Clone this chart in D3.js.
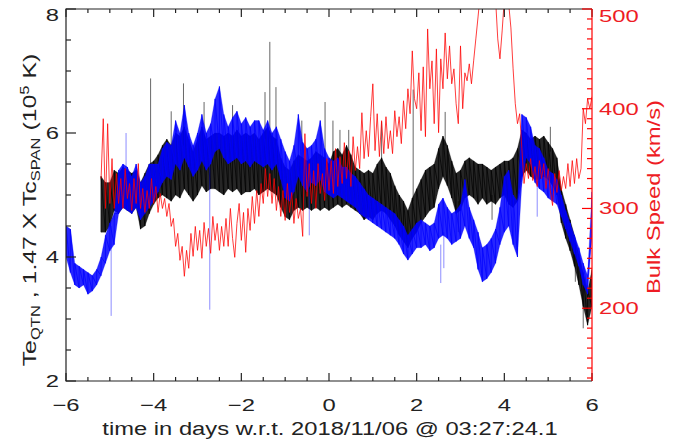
<!DOCTYPE html>
<html><head><meta charset="utf-8">
<script src="https://cdn.jsdelivr.net/npm/d3@7"></script>
<style>body{margin:0;background:#fff}svg{display:block}text{font-family:"Liberation Sans",Arial,sans-serif}</style>
</head><body><svg id="c" width="694" height="443"></svg>
<script>
// ---- data ----
const xTicks = [-6, -4, -2, 0, 2, 4, 6];
const yTicks = [2, 4, 6, 8];
const vTicks = [200, 300, 400, 500];
const blueStart = -6.0, blackStart = -5.2, redStart = -5.2, bandStep = 0.1, redStep = 0.05;

// 1.47 x Tc_SPAN (10^5 K), envelope per 0.1 day from -6.0
const blueLo = [
 4.0,3.75,3.55,3.5,3.55,3.4,3.45,3.55,3.7,3.9,
 4.1,4.2,4.7,4.8,4.75,4.7,4.8,4.6,4.7,4.8,
 4.9,5.05,5.2,5.3,5.25,5.5,5.4,5.6,5.45,5.3,
 5.4,5.55,5.4,5.5,5.7,5.75,5.6,5.5,5.55,5.6,
 5.5,5.55,5.45,5.55,5.5,5.45,5.5,5.4,5.5,5.25,
 4.95,4.9,5.05,5.3,5.15,5.05,5.2,5.15,5.25,5.05,
 5.0,4.95,5.0,4.95,4.9,4.85,4.8,4.7,4.65,4.6,
 4.55,4.5,4.45,4.4,4.35,4.3,4.2,4.05,3.95,4.05,
 4.15,4.15,4.2,4.1,4.15,4.3,4.35,4.3,4.2,4.25,
 4.3,4.5,4.3,4.15,3.8,3.6,3.65,3.75,3.9,4.2,
 4.4,4.5,4.2,4.0,5.2,5.6,5.5,5.2,5.1,5.05,
 4.95,4.9,4.85,4.65,4.45,4.25,4.05,3.85,3.55,3.4,
 4.4];
const blueHi = [
 4.5,4.45,3.9,3.85,3.8,3.75,3.7,3.8,4.0,4.35,
 4.55,4.7,5.4,5.5,5.45,5.3,5.5,5.2,5.3,5.5,
 5.5,5.5,5.75,5.85,5.8,6.2,6.0,6.45,6.0,5.8,
 6.0,6.3,6.0,6.15,6.55,6.75,6.3,6.1,6.25,6.35,
 6.15,6.25,6.1,6.2,6.2,6.05,6.2,6.0,6.1,5.9,
 5.7,5.55,5.8,6.3,5.85,5.75,5.8,5.9,6.2,5.75,
 5.6,5.55,5.6,5.45,5.45,5.35,5.3,5.2,5.1,5.0,
 4.95,4.9,4.85,4.8,4.75,4.7,4.6,4.5,4.35,4.45,
 4.55,4.6,4.55,4.5,4.55,4.85,4.95,4.8,4.7,4.75,
 4.85,5.25,4.8,4.6,4.4,4.15,4.2,4.3,4.45,4.8,
 5.3,5.4,5.0,4.9,6.3,6.25,6.1,5.8,5.75,5.6,
 5.4,5.35,5.25,5.0,4.75,4.55,4.35,4.15,3.9,3.7,
 5.05];
// Te_QTN (10^5 K), envelope per 0.1 day from -5.2
const blackLo = [
 4.4,4.4,
 4.5,4.75,4.7,4.8,4.75,4.7,4.8,4.45,4.5,4.7,
 4.85,4.95,5.0,4.95,4.9,5.0,4.95,5.1,5.0,4.9,
 5.0,5.15,5.05,5.1,5.1,5.05,5.0,5.1,5.05,5.1,
 5.0,5.05,5.05,5.1,5.0,5.05,5.1,5.05,5.0,4.8,
 4.65,4.6,4.75,4.8,4.75,4.8,4.75,4.8,4.75,4.8,
 4.75,4.8,4.85,4.8,4.85,4.8,4.75,4.7,4.6,4.65,
 4.6,4.7,4.75,4.7,4.6,4.5,4.35,4.25,4.15,4.3,
 4.4,4.55,4.65,4.75,4.8,5.1,5.3,5.15,4.95,4.7,
 4.75,4.95,5.0,4.95,4.85,4.95,4.85,4.9,4.85,4.95,
 5.0,4.85,4.8,4.9,5.3,5.4,5.3,5.25,5.25,5.3,
 5.25,5.15,5.0,4.55,4.3,4.1,3.85,3.55,3.2,2.9,
 3.2];
const blackHi = [
 5.3,5.2,
 5.2,5.4,5.35,5.45,5.4,5.35,5.4,5.2,5.35,5.5,
 5.55,5.65,5.8,5.9,5.8,6.0,5.95,6.1,5.9,5.7,
 5.9,6.1,5.9,5.95,6.0,6.0,5.95,6.0,5.95,6.05,
 5.95,6.0,5.95,6.0,5.9,6.0,6.1,5.95,5.9,5.6,
 5.45,5.4,5.55,5.65,5.6,5.55,5.6,5.7,5.65,5.6,
 5.5,5.7,5.75,5.65,5.8,5.65,5.45,5.4,5.35,5.4,
 5.35,5.5,5.6,5.45,5.35,5.15,5.0,4.9,4.75,4.95,
 5.1,5.25,5.4,5.45,5.5,5.75,5.95,5.8,5.55,5.35,
 5.4,5.55,5.6,5.55,5.5,5.5,5.45,5.4,5.45,5.5,
 5.55,5.55,5.6,5.75,6.05,6.0,5.9,5.95,5.9,5.95,
 5.85,5.75,5.6,5.1,4.85,4.6,4.35,4.05,3.75,3.45,
 3.8];
// isolated spikes: [time, from, to]
const blackSpikes = [[-4.07,5.3,6.88],[-3.6,5.8,6.35],[-3.32,5.8,6.8],[-2.85,5.8,6.5],[-2.2,5.9,6.45],
  [-1.46,5.9,6.66],[-1.35,5.9,7.47],[-1.21,5.8,6.74],[-0.62,5.5,6.2],[-0.09,5.5,6.5],[0.09,5.6,6.2],
  [0.25,5.6,6.05],[0.45,5.6,6.05],[1.2,5.5,6.18],[1.92,4.9,6.7],[2.65,5.8,6.34],[2.95,4.4,4.9],
  [3.72,4.6,5.0],[5.05,5.7,6.1],[5.62,3.6,4.1],[5.8,2.85,3.3]];
const blueSpikes = [[-4.97,3.05,4.5],[-4.63,5.3,6.0],[-2.72,3.15,5.5],[-0.45,4.35,5.1],[2.55,3.58,4.2],
  [2.62,3.82,4.4],[4.75,4.65,5.2]];
// Bulk speed (km/s), per 0.05 day from -5.2
const speed = [
 330,390,300,385,
 305,350,300,335,305,330,300,340,310,325,298,330,305,345,300,320,296,318,300,330,
 305,322,296,315,300,310,292,305,282,290,262,275,248,262,232,258,240,275,252,282,
 258,278,250,286,262,280,255,292,268,285,258,282,262,290,262,300,270,251,285,305,
 268,296,256,300,278,312,285,318,292,325,305,340,312,335,305,330,298,322,292,318,
 288,325,296,316,285,310,290,300,272,375,312,345,305,338,300,345,315,335,308,350,
 318,348,315,360,322,352,325,366,330,358,322,372,338,362,340,396,350,378,352,392,
 425,358,395,352,388,355,392,360,378,355,398,372,392,365,408,380,420,395,458,410,
 400,436,378,442,372,480,420,448,385,460,376,450,420,476,430,463,425,440,405,385,
 463,400,436,428,445,425,448,470,492,515,530,520,540,525,545,530,510,470,450,478,
 510,530,505,481,440,405,385,395,360,325,345,330,350,328,342,322,348,330,345,320,
 340,318,303,335,316,338,318,332,320,345,322,348,325,350,330,340,400,385,410,400,
 412];

// ---- chart ----
const svg = d3.select("#c");
const L = 66, R = 592, T = 9, B = 381;
const x = d3.scaleLinear([-6, 6], [L, R]);
const y = d3.scaleLinear([2, 8], [B, T]);
const v = d3.scaleLinear([127, 500], [B, T]);
const RED = "#ff0000", RED_TXT = "#ee1c24", TXT = "#222";

svg.append("defs").append("clipPath").attr("id", "clip")
  .append("rect").attr("x", L).attr("y", T).attr("width", R - L).attr("height", B - T);
const g = svg.append("g").attr("clip-path", "url(#clip)");

function band(lo, hi, t0, color) {
  const area = d3.area()
    .x((d, i) => x(t0 + i * bandStep))
    .y0((d, i) => y(lo[i]))
    .y1((d, i) => y(hi[i]));
  g.append("path").datum(lo).attr("d", area)
    .attr("fill", color).attr("fill-opacity", 0.85).attr("stroke", color)
    .attr("stroke-width", 0.7).attr("stroke-opacity", 0.35);
  // sawtooth through the envelope samples gives the dense-trace texture
  const pts = [];
  lo.forEach((d, i) => { const t = t0 + i * bandStep; pts.push([t, lo[i]], [t, hi[i]]); });
  g.append("path").datum(pts)
    .attr("d", d3.line().x(d => x(d[0])).y(d => y(d[1])))
    .attr("fill", "none").attr("stroke", color).attr("stroke-width", 0.9).attr("stroke-opacity", 0.8);
}
function spikes(arr, color, op) {
  g.selectAll(null).data(arr).enter().append("line")
    .attr("x1", d => x(d[0])).attr("x2", d => x(d[0]))
    .attr("y1", d => y(d[1])).attr("y2", d => y(d[2]))
    .attr("stroke", color).attr("stroke-width", 1).attr("stroke-opacity", op);
}
band(blackLo, blackHi, blackStart, "#000");
spikes(blackSpikes, "#000", 0.6);
band(blueLo, blueHi, blueStart, "#0000ff");
spikes(blueSpikes, "#0000ff", 0.45);
g.append("path").datum(speed)
  .attr("d", d3.line().x((d, i) => x(redStart + i * redStep)).y(d => v(d)))
  .attr("fill", "none").attr("stroke", RED).attr("stroke-width", 0.9).attr("stroke-opacity", 0.85);

// axes
const minorX = d3.range(-6, 6.001, 0.5);
const minorY = d3.range(2, 8.001, 0.5);
const minorV = d3.range(130, 500.1, 10);
const ax = svg.append("g").attr("stroke", "#222").attr("stroke-width", 1.2);
minorX.forEach(t => {
  const len = xTicks.includes(t) ? 8 : 4;
  ax.append("line").attr("x1", x(t)).attr("x2", x(t)).attr("y1", B).attr("y2", B - len);
  ax.append("line").attr("x1", x(t)).attr("x2", x(t)).attr("y1", T).attr("y2", T + len);
});
minorY.forEach(t => {
  ax.append("line").attr("x1", L).attr("x2", L + (yTicks.includes(t) ? 10 : 5)).attr("y1", y(t)).attr("y2", y(t));
});
ax.append("path").attr("fill", "none").attr("d", `M${R},${T}H${L}V${B}H${R}`);
const rx = svg.append("g").attr("stroke", RED).attr("stroke-width", 1.2);
minorV.forEach(s => {
  rx.append("line").attr("x1", R).attr("x2", R - (vTicks.includes(s) ? 10 : 5)).attr("y1", v(s)).attr("y2", v(s));
});
rx.append("line").attr("x1", R).attr("x2", R).attr("y1", T).attr("y2", B);

// tick labels (horizontally stretched like the original)
const SX = 1.4;
svg.append("g").selectAll("text").data(xTicks).enter().append("text")
  .attr("transform", d => `translate(${x(d)},411) scale(${SX},1)`).attr("text-anchor", "middle")
  .attr("font-size", 17).attr("fill", TXT)
  .text(d => d < 0 ? "\u2212" + Math.abs(d) : d);
svg.append("g").selectAll("text").data(yTicks).enter().append("text")
  .attr("transform", d => `translate(59,${Math.max(y(d), 15) + 6}) scale(${SX},1)`).attr("text-anchor", "end")
  .attr("font-size", 17).attr("fill", TXT).text(d => d);
svg.append("g").selectAll("text").data(vTicks).enter().append("text")
  .attr("transform", d => `translate(599,${Math.max(v(d), 16) + 6}) scale(${SX},1)`)
  .attr("font-size", 17).attr("fill", RED_TXT).text(d => d);

// titles
svg.append("text").attr("transform", "translate(330,435) scale(1.32,1)").attr("text-anchor", "middle")
  .attr("font-size", 18).attr("fill", TXT)
  .text("time in days w.r.t. 2018/11/06 @ 03:27:24.1");
const lt = svg.append("text").attr("transform", "translate(36,210) rotate(-90) scale(1.38,1)")
  .attr("text-anchor", "middle").attr("font-size", 18).attr("fill", TXT);
lt.append("tspan").text("Te");
lt.append("tspan").attr("font-size", 12).attr("dy", 4).text("QTN");
lt.append("tspan").attr("dy", -4).text(" , 1.47 X Tc");
lt.append("tspan").attr("font-size", 12).attr("dy", 4).text("SPAN");
lt.append("tspan").attr("dy", -4).text(" (10");
lt.append("tspan").attr("font-size", 12).attr("dy", -7).text("5");
lt.append("tspan").attr("dy", 7).text(" K)");
svg.append("text").attr("transform", "translate(660,197) rotate(-90) scale(1.32,1)")
  .attr("text-anchor", "middle").attr("font-size", 18).attr("fill", RED_TXT)
  .text("Bulk Speed (km/s)");
</script></body></html>
